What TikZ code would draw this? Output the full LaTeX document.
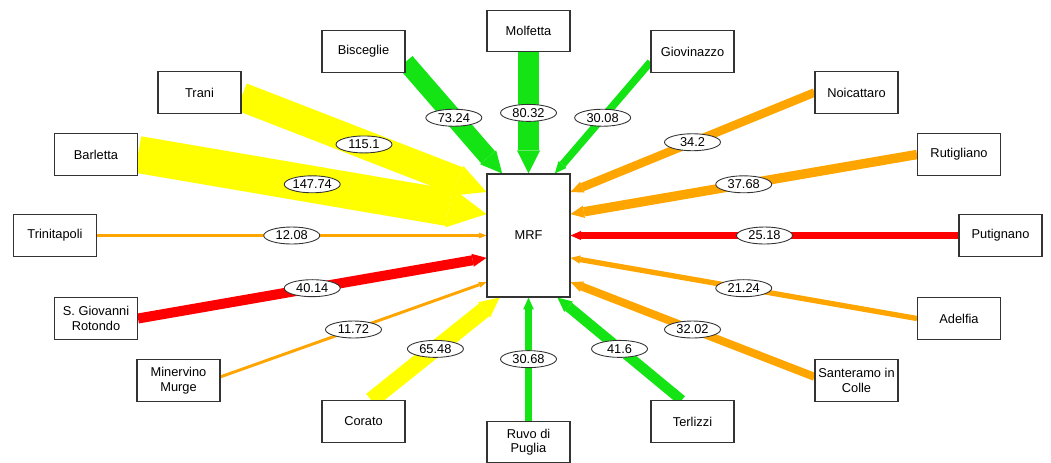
\documentclass[tikz,border=0pt]{standalone}
\usepackage{fontspec}
\setmainfont{Liberation Sans}
\usetikzlibrary{arrows.meta}
\usetikzlibrary{shapes.geometric}
\definecolor{flowyellow}{RGB}{255,255,0}
\definecolor{flowgreen}{RGB}{20,228,20}
\definecolor{floworange}{RGB}{255,165,0}
\definecolor{flowred}{RGB}{255,0,0}
\tikzset{
    % Plain grey frame round every town, hiding the ends of the flows
    town/.style={
        draw=black!80, fill=white, line width=0.6pt, minimum width=16.6mm,
        minimum height=8.3mm, align=center, inner sep=1pt},
%
    % White oval carrying the amount of a flow
    amount/.style={
        draw=black!80, text=black, line width=0.5pt, ellipse, fill=white,
        inner sep=0pt, minimum width=11.2mm, minimum height=3.4mm, midway},
%
    % Arrow head that grows with the width of the flow
    >={Triangle[length=1mm 0.9, width=0.6mm 1, line width=0pt]}}
\pgfdeclarelayer{background}
\pgfsetlayers{background,main}

\begin{document}
\begin{tikzpicture}[x=0.2mm, y=-0.2mm]
\fontsize{7.3}{8.3}\selectfont

% Draws a flow of amount #2 in colour #1 from #3 into anchor #4 of the MRF
\newcommand{\flowarrow}[4]{
\begin{pgfonlayer}{background}
\draw [#1, line width=#2*0.05mm, ->] (#3) -- (mrf.#4)
    node [amount] {#2};
\end{pgfonlayer}
}

\useasboundingbox (0,0) rectangle (1051,462);

% Recovery facility in the middle
\node [town, minimum height=24.6mm] (mrf) at (528.5,235.5) {MRF};

% Towns round it
\node [town] (molfetta) at (528.5,31) {Molfetta};
\node [town] (bisceglie) at (363.5,51.5) {Bisceglie};
\node [town] (giovinazzo) at (692.5,51.5) {Giovinazzo};
\node [town] (trani) at (199.5,92.5) {Trani};
\node [town] (noicattaro) at (856.5,92.5) {Noicattaro};
\node [town] (barletta) at (96,154.5) {Barletta};
\node [town] (rutigliano) at (959,154.5) {Rutigliano};
\node [town] (trinitapoli) at (55,235.5) {Trinitapoli};
\node [town] (putignano) at (1000.5,235.5) {Putignano};
\node [town] (sgiovanni) at (96,318.5) {S. Giovanni\\Rotondo};
\node [town] (adelfia) at (959,318.5) {Adelfia};
\node [town] (minervino) at (178.5,380.5) {Minervino\\Murge};
\node [town] (santeramo) at (856.5,380.5) {Santeramo in\\Colle};
\node [town] (corato) at (363.5,421.5) {Corato};
\node [town] (terlizzi) at (692.5,421.5) {Terlizzi};
\node [town] (ruvo) at (528.5,442) {Ruvo di\\Puglia};

% Flows from the north
\flowarrow{flowgreen}{80.32}{molfetta.south}{north}
\flowarrow{flowgreen}{73.24}{bisceglie.-14}{113}
\flowarrow{flowgreen}{30.08}{giovinazzo.194}{67}
\flowarrow{flowyellow}{115.1}{trani.-6}{134}
\flowarrow{flowyellow}{147.74}{barletta.east}{153}
\flowarrow{floworange}{34.2}{noicattaro.west}{46}
\flowarrow{floworange}{37.68}{rutigliano.west}{27}

% Flows from east and west
\flowarrow{floworange}{12.08}{trinitapoli.east}{west}
\flowarrow{flowred}{25.18}{putignano.west}{east}

% Flows from the south
\flowarrow{flowred}{40.14}{sgiovanni.east}{208}
\flowarrow{floworange}{11.72}{minervino.5}{228}
\flowarrow{flowyellow}{65.48}{corato.70}{245}
\flowarrow{flowgreen}{30.68}{ruvo.north}{south}
\flowarrow{flowgreen}{41.6}{terlizzi.117}{-65}
\flowarrow{floworange}{21.24}{adelfia.west}{-28}
\flowarrow{floworange}{32.02}{santeramo.175}{-48}

\end{tikzpicture}
\end{document}
